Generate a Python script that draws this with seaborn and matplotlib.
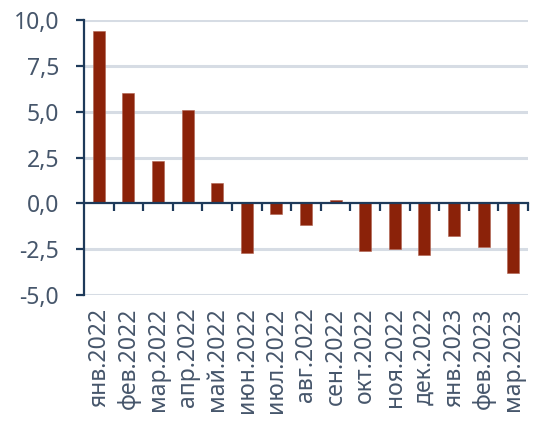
import matplotlib
matplotlib.use("Agg")
import matplotlib.pyplot as plt
import seaborn as sns
import pandas as pd
from matplotlib.ticker import FixedLocator, FuncFormatter

months = ["янв.2022", "фев.2022", "мар.2022", "апр.2022", "май.2022", "июн.2022",
          "июл.2022", "авг.2022", "сен.2022", "окт.2022", "ноя.2022", "дек.2022",
          "янв.2023", "фев.2023", "мар.2023"]
values = [9.4, 6.0, 2.3, 5.1, 1.1, -2.7, -0.6, -1.2, 0.2, -2.6, -2.5, -2.8, -1.8, -2.4, -3.8]
y_ticks = [-5.0, -2.5, 0.0, 2.5, 5.0, 7.5, 10.0]

sns.set_theme(style="white")
plt.rcParams["font.family"] = ["Noto Sans", "DejaVu Sans"]

BAR = "#8B2209"
AXIS = "#1E3A5A"
TEXT = "#46566B"
GRID = "#D6DCE4"

df = pd.DataFrame({"month": months, "value": values})

fig, ax = plt.subplots(figsize=(5.36, 4.24), dpi=100)
fig.subplots_adjust(left=84 / 536, right=528 / 536, top=1 - 20 / 424, bottom=1 - 295 / 424)

ax.set_ylim(-5, 10)
ax.hlines([y for y in y_ticks if y != 0], xmin=-0.5, xmax=len(months) - 0.5,
          colors=GRID, linewidths=2.2, zorder=2)

sns.barplot(data=df, x="month", y="value", color=BAR, width=0.4, ax=ax,
            saturation=1, edgecolor="#B0604E", linewidth=0.4, zorder=3)

ax.set_ylim(-5, 10)
ax.set_xlim(-0.5, len(months) - 0.5)
ax.set_yticks(y_ticks)
ax.yaxis.set_major_formatter(FuncFormatter(lambda v, _: f"{v:.1f}".replace(".", ",")))

ax.set_xlabel("")
ax.set_ylabel("")

for side in ("top", "right"):
    ax.spines[side].set_visible(False)
ax.spines["left"].set_color(AXIS)
ax.spines["left"].set_linewidth(1.6)
ax.spines["left"].set_zorder(4)
ax.spines["bottom"].set_position(("data", 0))
ax.spines["bottom"].set_color(AXIS)
ax.spines["bottom"].set_linewidth(1.6)
ax.spines["bottom"].set_zorder(4)

ax.tick_params(axis="y", direction="out", length=6, width=1.6, color=AXIS,
               labelcolor=TEXT, labelsize=16.5, pad=12, left=True)
ax.tick_params(axis="x", which="major", length=0, labelcolor=TEXT, labelsize=16.5,
               pad=75, rotation=90)
ax.xaxis.set_minor_locator(FixedLocator([i + 0.5 for i in range(len(months))]))
ax.tick_params(axis="x", which="minor", direction="out", length=6, width=1.6,
               color=AXIS, bottom=True)
for lbl in ax.get_xticklabels():
    lbl.set_va("top")

fig.savefig("out.png", dpi=100)
